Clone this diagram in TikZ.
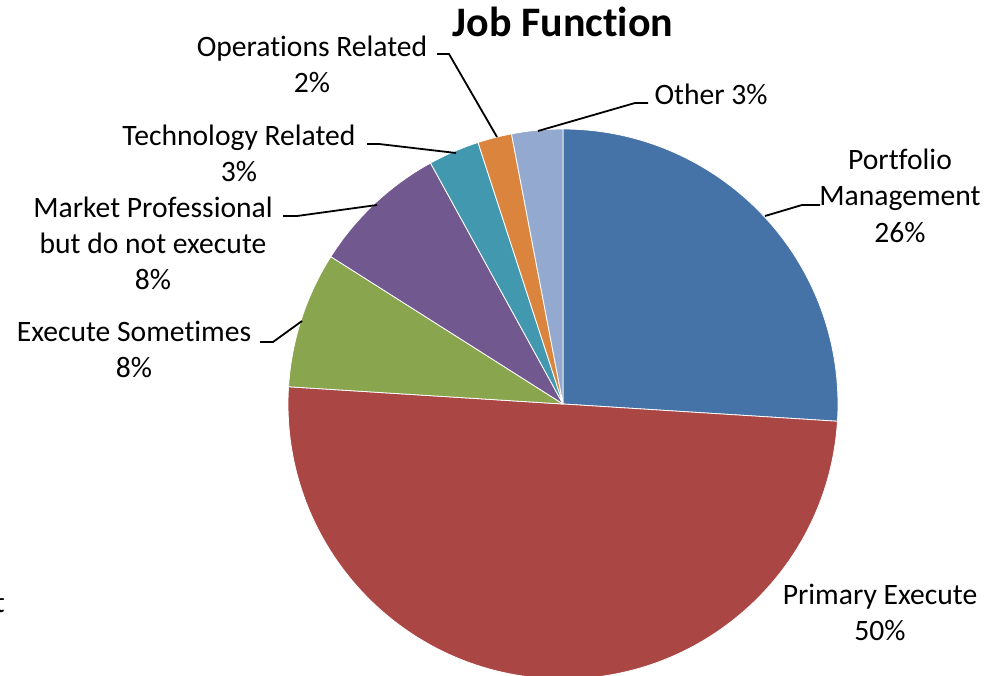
\documentclass[tikz,border=0pt]{standalone}
\usepackage{fontspec}
\setmainfont[RawFeature={-liga;-dlig;-clig}]{Carlito}
\definecolor{cPM}{HTML}{4572A7}
\definecolor{cPE}{HTML}{AA4643}
\definecolor{cES}{HTML}{89A54E}
\definecolor{cMP}{HTML}{71588F}
\definecolor{cTR}{HTML}{4198AF}
\definecolor{cOR}{HTML}{DB843D}
\definecolor{cOT}{HTML}{93A9CF}
\tikzset{
  lbl/.style={anchor=base, align=center, inner sep=0pt, font=\fontsize{29.6}{36}\selectfont},
  leader/.style={draw=black, line width=1.8pt},
  slice/.style={draw=white, line width=0.8pt, line join=round}
}
\begin{document}
\begin{tikzpicture}[x=1pt,y=-1pt]
\useasboundingbox (0,0) rectangle (1000,676);
\coordinate (c) at (563,404);
\def\R{275}
% slices (visual clockwise from top)
\filldraw[slice, fill=cPM] (c) -- ++(-90:\R) arc[start angle=-90, end angle=3.6, radius=\R] -- cycle;
\filldraw[slice, fill=cPE] (c) -- ++(3.6:\R) arc[start angle=3.6, end angle=183.6, radius=\R] -- cycle;
\filldraw[slice, fill=cES] (c) -- ++(183.6:\R) arc[start angle=183.6, end angle=212.4, radius=\R] -- cycle;
\filldraw[slice, fill=cMP] (c) -- ++(212.4:\R) arc[start angle=212.4, end angle=241.2, radius=\R] -- cycle;
\filldraw[slice, fill=cTR] (c) -- ++(241.2:\R) arc[start angle=241.2, end angle=252, radius=\R] -- cycle;
\filldraw[slice, fill=cOR] (c) -- ++(252:\R) arc[start angle=252, end angle=259.2, radius=\R] -- cycle;
\filldraw[slice, fill=cOT] (c) -- ++(259.2:\R) arc[start angle=259.2, end angle=270, radius=\R] -- cycle;

% title
\node[anchor=base, inner sep=0pt, font=\fontsize{42}{50}\selectfont\bfseries] (title) at (563,37) {Job Function};

% labels (anchor = baseline of last line)
\node[lbl] (ops) at (312,93) {Operations Related\\2\%};
\node[lbl] (tech) at (239,182) {Technology Related\\3\%};
\node[lbl] (mkt) at (153,289) {Market Professional\\but do not execute\\8\%};
\node[lbl] (exs) at (134,377) {Execute Sometimes\\8\%};
\node[lbl] (pm) at (900,242) {Portfolio\\Management\\26\%};
\node[lbl] (oth) at (711,105) {Other 3\%};
\node[lbl] (pri) at (880,640) {Primary Execute\\50\%};
\node[lbl, anchor=base east] (tcut) at (5,612) {t};

% leader points
\coordinate (opsA) at (437,54);  \coordinate (opsB) at (449,54);  \coordinate (opsC) at (497,137);
\coordinate (techA) at (367,144); \coordinate (techB) at (379,144); \coordinate (techC) at (456,153);
\coordinate (mktA) at (283,216); \coordinate (mktB) at (297,216); \coordinate (mktC) at (377,205);
\coordinate (exsA) at (260,342); \coordinate (exsB) at (273,342); \coordinate (exsC) at (302,321);
\coordinate (pmA) at (820,205);  \coordinate (pmB) at (802,205);  \coordinate (pmC) at (765,216);
\coordinate (othA) at (648,103); \coordinate (othB) at (635,103); \coordinate (othC) at (538,131);

\draw[leader] (opsA) -- (opsB) -- (opsC);
\draw[leader] (techA) -- (techB) -- (techC);
\draw[leader] (mktA) -- (mktB) -- (mktC);
\draw[leader] (exsA) -- (exsB) -- (exsC);
\draw[leader] (pmA) -- (pmB) -- (pmC);
\draw[leader] (othA) -- (othB) -- (othC);
\end{tikzpicture}
\end{document}
